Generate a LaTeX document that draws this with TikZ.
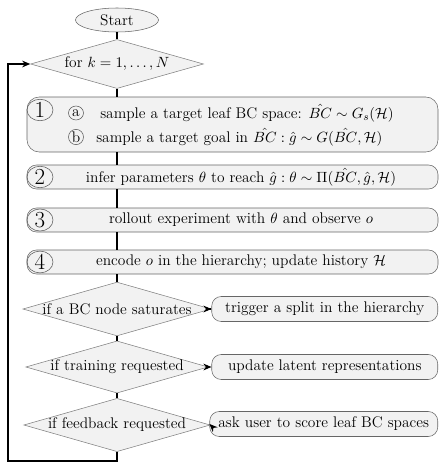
\documentclass[tikz,border=0pt]{standalone}
\usepackage{amssymb}
\usepackage{amsmath}
\usepackage{tikz}
\usetikzlibrary{arrows.meta,shapes,shapes.geometric,calc,positioning}

\def\px{0.026cm} % one pixel of the layout

\begin{document}
\begin{tikzpicture}[x=0.026cm, y=-0.026cm,
		font=\fontsize{11.4}{13.5}\selectfont,
		flow/.style={line width=0.8pt, black},
		flowarrow/.style={flow, -{Stealth[length=6pt, width=5pt]}},
		stepbox/.style={draw=black!60, fill=black!5, rounded corners=7pt,
			minimum width={411*\px}, minimum height={24*\px}, inner sep=0pt},
		sidebox/.style={draw=black!60, fill=black!5, rounded corners=7pt,
			minimum width={226*\px}, minimum height={25*\px}, inner xsep=1pt, anchor=east},
		decision/.style={diamond, aspect=3.5, draw=black!50, fill=black!5, inner sep=0pt,
			minimum width={175*\px}, minimum height={49*\px}},
		numcirc/.style={ellipse, draw=black!65, inner sep=0pt, font=\fontsize{17}{19}\selectfont,
			minimum width={26*\px}, minimum height={21*\px}},
		subcirc/.style={ellipse, draw=black!65, inner sep=0pt,
			minimum width={15*\px}, minimum height={14*\px}}
	]

	\useasboundingbox (0,0) rectangle (440,464);

	\def\xc{117}   % x of the main column
	\def\xbox{232.5} % centre of the wide boxes
	\def\xtxt{241} % centre of the texts in the wide boxes

	% start and loop head
	\node[ellipse, draw=black!60, fill=black!5, minimum width={83*\px}, minimum height={24*\px}, inner sep=0pt] (start) at (\xc,20) {Start};
	\node[decision, minimum width={173*\px}] (loop) at (\xc,64) {for $k=1,\ldots,N$};

	% step 1
	\node[stepbox, rounded corners=9pt, minimum height={55*\px}] (step1) at (\xbox,124.5) {};
	\node[numcirc] (num1) at (40,110) {1};
	\node[subcirc] (suba) at (76,113) {a};
	\node[subcirc] (subb) at (76,137) {b};
	\node[anchor=west, inner sep=0pt] (rowa) at (100,113) {sample a target leaf BC space: $\hat{BC} \sim G_s(\mathcal{H})$};
	\node[anchor=west, inner sep=0pt] (rowb) at (96,137) {sample a target goal in $\hat{BC} : \hat{g} \sim G(\hat{BC},\mathcal{H})$};

	% steps 2 to 4
	\node[stepbox] (step2) at (\xbox,177) {};
	\node[numcirc] (num2) at (40,177) {2};
	\node (txt2) at (\xtxt,177) {infer parameters $\theta$ to reach $\hat{g} : \theta \sim \Pi(\hat{BC},\hat{g},\mathcal{H})$};

	\node[stepbox] (step3) at (\xbox,220) {};
	\node[numcirc] (num3) at (40,220) {3};
	\node (txt3) at (\xtxt,220) {rollout experiment with $\theta$ and observe $o$};

	\node[stepbox] (step4) at (\xbox,262) {};
	\node[numcirc] (num4) at (40,262) {4};
	\node (txt4) at (\xtxt,262) {encode $o$ in the hierarchy; update history $\mathcal{H}$};

	% decisions and side actions
	\node[decision] (sat) at (\xc,309) {if a BC node saturates};
	\node[decision] (train) at (\xc,367) {if training requested};
	\node[decision] (feed) at (\xc,425) {if feedback requested};

	\node[sidebox] (split) at (438,309) {trigger a split in the hierarchy};
	\node[sidebox] (latent) at (438,367) {update latent representations};
	\node[sidebox, minimum width={228*\px}] (score) at (438,424) {ask user to score leaf BC spaces};

	% main column
	\draw[flow] (start) -- (loop);
	\draw[flow] (loop) -- (loop |- step1.north);
	\draw[flow] (loop |- step1.south) -- (loop |- step2.north);
	\draw[flow] (loop |- step2.south) -- (loop |- step3.north);
	\draw[flow] (loop |- step3.south) -- (loop |- step4.north);
	\draw[flow] (loop |- step4.south) -- (sat);
	\draw[flow] (sat) -- (train);
	\draw[flow] (train) -- (feed);

	% side arrows
	\draw[flowarrow] (sat.east) -- (split.west);
	\draw[flowarrow] (train.east) -- (latent.west);
	\draw[flowarrow] (feed.east) -- (score.west);

	% back to the loop head
	\coordinate (back) at (8,461);
	\draw[flowarrow] (feed.south) |- (back) |- (loop.west);

\end{tikzpicture}
\end{document}
